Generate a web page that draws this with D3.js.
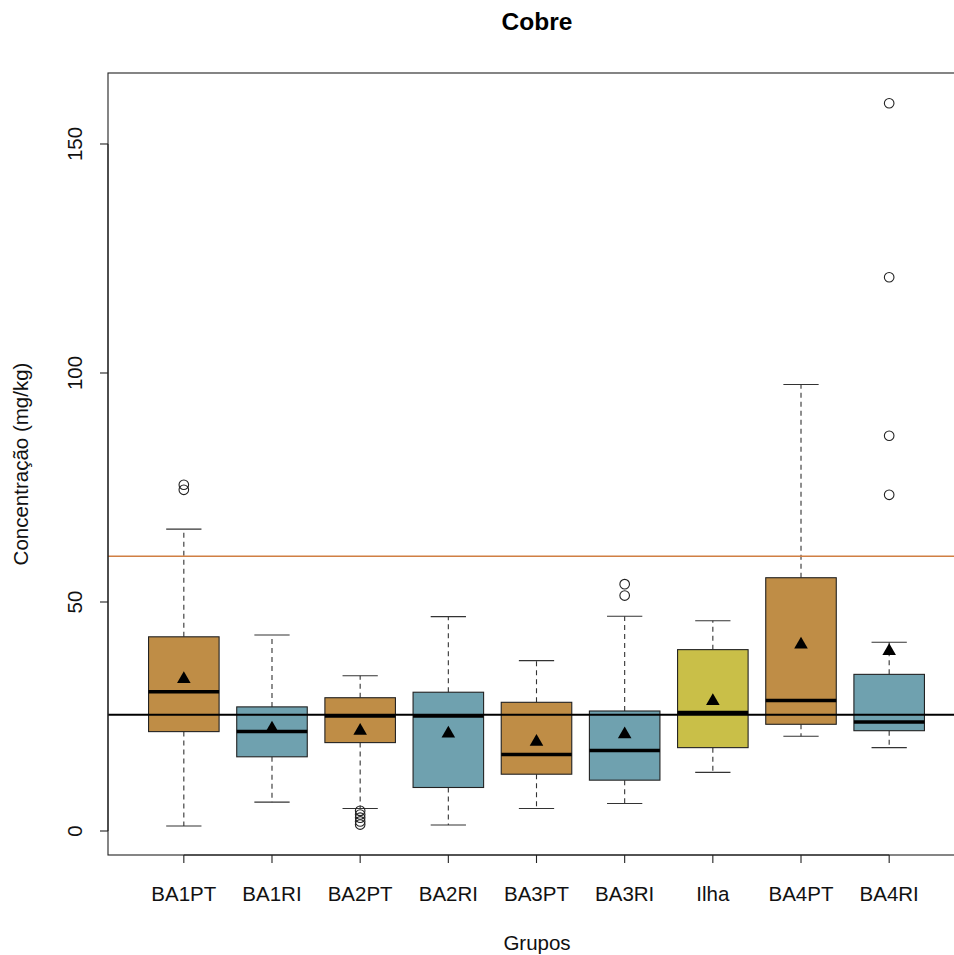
<!DOCTYPE html>
<html>
<head>
<meta charset="utf-8">
<script src="https://cdn.jsdelivr.net/npm/d3@7"></script>
<style>
  body { margin: 0; background: #fff; }
  text { font-family: "Liberation Sans", Arial, Helvetica, sans-serif; }
</style>
</head>
<body>
<svg id="chart" width="954" height="955"></svg>
<script>
// ---- data ----
const groups      = ["BA1PT","BA1RI","BA2PT","BA2RI","BA3PT","BA3RI","Ilha","BA4PT","BA4RI"];
const groupType   = ["PT","RI","PT","RI","PT","RI","Ilha","PT","RI"];
const whiskerLow  = [1.1, 6.3, 4.9, 1.3, 4.9, 6.0, 12.8, 20.7, 18.2];
const q1          = [21.7, 16.2, 19.3, 9.5, 12.4, 11.1, 18.2, 23.3, 21.9];
const medians     = [30.4, 21.7, 25.1, 25.1, 16.7, 17.6, 25.9, 28.5, 23.8];
const q3          = [42.4, 27.1, 29.1, 30.3, 28.1, 26.2, 39.6, 55.3, 34.2];
const whiskerHigh = [65.9, 42.8, 33.9, 46.8, 37.2, 46.9, 45.9, 97.5, 41.2];
const means       = [33.4, 22.6, 22.1, 21.5, 19.7, 21.3, 28.6, 40.9, 39.5];
const outliers    = [
  [75.6, 74.5],
  [],
  [4.4, 3.6, 2.9, 2.1, 1.4],
  [],
  [],
  [53.9, 51.4],
  [],
  [],
  [158.9, 120.9, 86.3, 73.4]
];
const refLines    = [ {value: 60, color: "#D07F43"}, {value: 25.4, color: "#000000"} ];
const yTicks      = [0, 50, 100, 150];
const typeColors  = {PT: "#BF8D46", RI: "#6FA1AF", Ilha: "#C9BF48"};
const title = "Cobre", xTitle = "Grupos", yTitle = "Concentração (mg/kg)";

// ---- layout ----
const svg = d3.select("#chart");
const plotLeft = 108, plotRight = 965, plotTop = 73, plotBottom = 855;
const labelSize = 20.5;

const x = d3.scaleLinear().domain([0.14, 9.86]).range([plotLeft, plotRight]);
const y = d3.scaleLinear().domain([-5.24, 165.5]).range([plotBottom, plotTop]);
const unit = x(2) - x(1);
const boxW = 0.8 * unit;
const capW = 0.4 * unit;

// title
svg.append("text").attr("x", 537).attr("y", 30).attr("text-anchor", "middle")
  .attr("font-size", 24.5).attr("font-weight", "bold").text(title);

// boxes
const g = svg.append("g");
groups.forEach((name, i) => {
  const cx = x(i + 1);
  const col = typeColors[groupType[i]];
  g.append("line").attr("x1", cx).attr("x2", cx).attr("y1", y(q3[i])).attr("y2", y(whiskerHigh[i]))
    .attr("stroke", "#333").attr("stroke-width", 1.1).attr("stroke-dasharray", "5,4");
  g.append("line").attr("x1", cx).attr("x2", cx).attr("y1", y(q1[i])).attr("y2", y(whiskerLow[i]))
    .attr("stroke", "#333").attr("stroke-width", 1.1).attr("stroke-dasharray", "5,4");
  [whiskerHigh[i], whiskerLow[i]].forEach(v => {
    g.append("line").attr("x1", cx - capW / 2).attr("x2", cx + capW / 2).attr("y1", y(v)).attr("y2", y(v))
      .attr("stroke", "#333").attr("stroke-width", 1.1);
  });
  g.append("rect").attr("x", cx - boxW / 2).attr("width", boxW)
    .attr("y", y(q3[i])).attr("height", y(q1[i]) - y(q3[i]))
    .attr("fill", col).attr("stroke", "#222").attr("stroke-width", 1.1);
  g.append("line").attr("x1", cx - boxW / 2).attr("x2", cx + boxW / 2)
    .attr("y1", y(medians[i])).attr("y2", y(medians[i]))
    .attr("stroke", "#000").attr("stroke-width", 3.5);
  outliers[i].forEach(v => {
    g.append("circle").attr("cx", cx).attr("cy", y(v)).attr("r", 4.8)
      .attr("fill", "none").attr("stroke", "#222").attr("stroke-width", 1.1);
  });
});

// reference lines
refLines.forEach(r => {
  svg.append("line").attr("x1", plotLeft).attr("x2", plotRight)
    .attr("y1", y(r.value)).attr("y2", y(r.value))
    .attr("stroke", r.color).attr("stroke-width", r.color === "#000000" ? 2 : 1.6);
});

// means (triangles)
const tri = d3.symbol().type(d3.symbolTriangle).size(80);
groups.forEach((name, i) => {
  svg.append("path").attr("d", tri)
    .attr("transform", `translate(${x(i + 1)},${y(means[i]) + 1})`)
    .attr("fill", "#000");
});

// frame
svg.append("rect").attr("x", plotLeft).attr("y", plotTop)
  .attr("width", plotRight - plotLeft).attr("height", plotBottom - plotTop)
  .attr("fill", "none").attr("stroke", "#222").attr("stroke-width", 1.1);

// y axis
const yAxisG = svg.append("g").attr("transform", `translate(${plotLeft},0)`);
yAxisG.append("line").attr("x1", 0).attr("x2", 0).attr("y1", y(0)).attr("y2", y(150))
  .attr("stroke", "#222").attr("stroke-width", 1.1);
yTicks.forEach(t => {
  yAxisG.append("line").attr("x1", -8).attr("x2", 0).attr("y1", y(t)).attr("y2", y(t))
    .attr("stroke", "#222").attr("stroke-width", 1.1);
  yAxisG.append("text").attr("transform", `translate(-26,${y(t)}) rotate(-90)`)
    .attr("text-anchor", "middle").attr("font-size", labelSize).attr("fill", "#111").text(t);
});

// x axis
const xAxisG = svg.append("g").attr("transform", `translate(0,${plotBottom})`);
xAxisG.append("line").attr("x1", x(1)).attr("x2", x(9)).attr("y1", 0).attr("y2", 0)
  .attr("stroke", "#222").attr("stroke-width", 1.1);
groups.forEach((name, i) => {
  xAxisG.append("line").attr("x1", x(i + 1)).attr("x2", x(i + 1)).attr("y1", 0).attr("y2", 8)
    .attr("stroke", "#222").attr("stroke-width", 1.1);
  xAxisG.append("text").attr("x", x(i + 1)).attr("y", 46).attr("text-anchor", "middle")
    .attr("font-size", labelSize).attr("fill", "#111").text(name);
});

// axis titles
svg.append("text").attr("x", 537).attr("y", 950).attr("text-anchor", "middle")
  .attr("font-size", labelSize).attr("fill", "#111").text(xTitle);
svg.append("text").attr("transform", `translate(28,${(plotTop + plotBottom) / 2}) rotate(-90)`)
  .attr("text-anchor", "middle").attr("font-size", labelSize).attr("fill", "#111").text(yTitle);
</script>
</body>
</html>
